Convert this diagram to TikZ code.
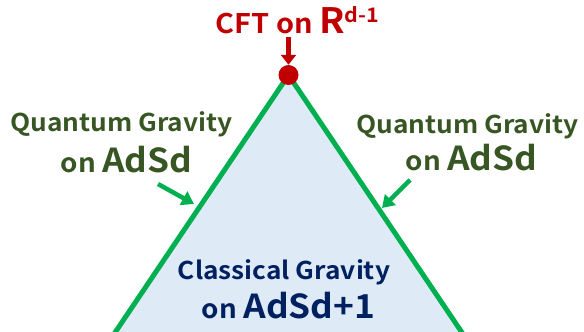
\documentclass[tikz,border=0pt]{standalone}
\usepackage{fontspec}
\setmainfont{Noto Sans CJK JP}[BoldFont={Noto Sans CJK JP Bold},BoldFeatures={FakeStretch=1.07}]
\usetikzlibrary{arrows.meta}
\definecolor{edgegreen}{HTML}{00B050}
\definecolor{fillblue}{HTML}{DEEBF7}
\definecolor{cftred}{HTML}{C00000}
\definecolor{qgreen}{HTML}{375623}
\definecolor{cblue}{HTML}{002060}
\begin{document}
\begin{tikzpicture}[x=1pt,y=-1pt,
  lbl/.style={anchor=base,inner sep=0pt,font=\bfseries},
  garrow/.style={draw=edgegreen,line width=4.5pt,-{Triangle[length=12pt,width=15pt]}},
  rarrow/.style={draw=cftred,line width=4.5pt,-{Triangle[length=10pt,width=15pt]}}]
\useasboundingbox (0,0) rectangle (584,332);
% triangle
\coordinate (apex) at (288.5,75);
\coordinate (bl) at (110,340);
\coordinate (br) at (467,340);
\fill[fillblue] (apex) -- (bl) -- (br) -- cycle;
\draw[edgegreen,line width=5pt] (bl) -- (apex) -- (br);
\node[circle,fill=cftred,minimum size=20pt,inner sep=0pt] (dot) at (apex) {};
% CFT label
\node[lbl,text=cftred] (cft) at (297.5,33) {\fontsize{27}{30}\selectfont CFT on \fontsize{35}{40}\selectfont R\raisebox{11pt}{\fontsize{20}{22}\selectfont d-1}};
\coordinate (cfttail) at (288.5,37);
\draw[rarrow] (cfttail) -- (dot.north);
% left label
\node[lbl,text=qgreen] (ql1) at (121.5,131) {\fontsize{24.5}{28}\selectfont Quantum Gravity};
\node[lbl,text=qgreen] (ql2) at (126.5,172) {\fontsize{26}{30}\selectfont on \fontsize{33}{36}\selectfont AdSd};
% right label
\node[lbl,text=qgreen] (qr1) at (467.5,133) {\fontsize{24.5}{28}\selectfont Quantum Gravity};
\node[lbl,text=qgreen] (qr2) at (471.5,170) {\fontsize{26}{30}\selectfont on \fontsize{33}{36}\selectfont AdSd};
% bottom label
\node[lbl,text=cblue] (cl1) at (284,279) {\fontsize{24.5}{28}\selectfont Classical Gravity};
\node[lbl,text=cblue] (cl2) at (288.5,318) {\fontsize{26}{30}\selectfont on \fontsize{33}{36}\selectfont AdSd+1};
% green arrows
\coordinate (lt) at (158,184);
\coordinate (lh) at (194,204);
\coordinate (rt) at (410,180);
\coordinate (rh) at (382,208);
\draw[garrow] (lt) -- (lh);
\draw[garrow] (rt) -- (rh);
\end{tikzpicture}
\end{document}
